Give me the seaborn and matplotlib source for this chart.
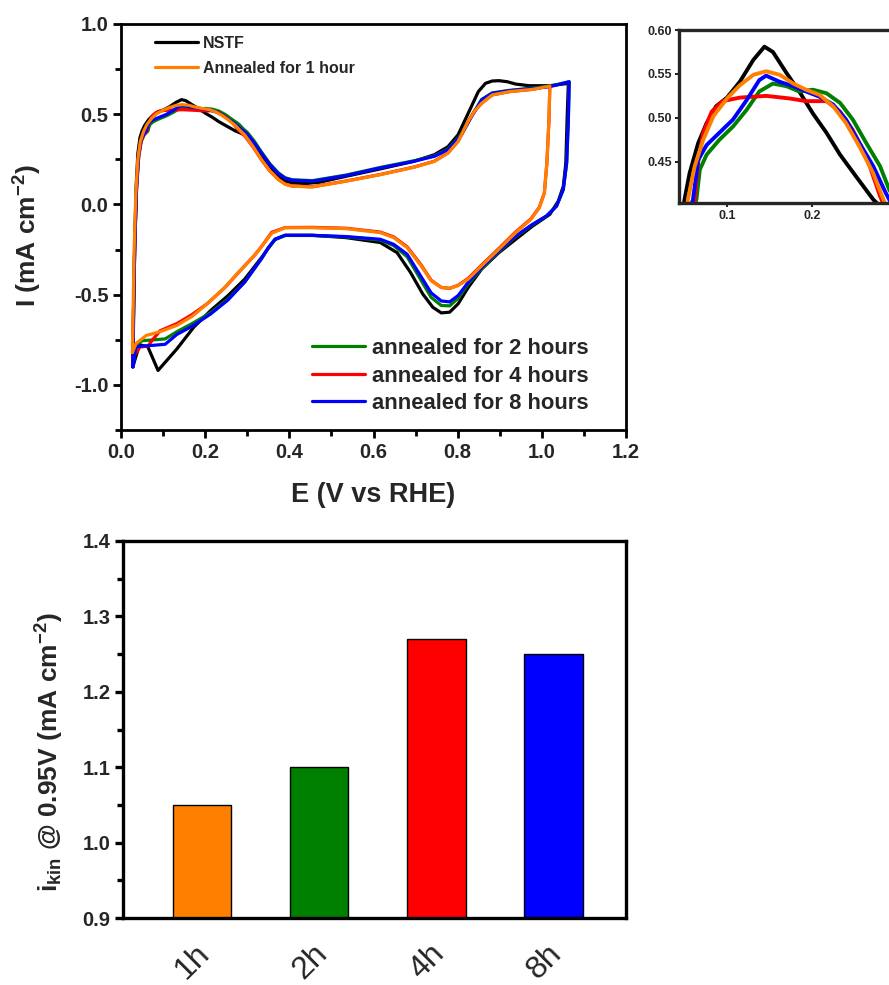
import matplotlib
matplotlib.use("Agg")
import matplotlib.pyplot as plt
from matplotlib.ticker import MultipleLocator
from matplotlib.transforms import ScaledTranslation
import seaborn as sns
import pandas as pd

# ---------------- cyclic voltammetry data (E in V vs RHE, I in mA cm^-2) ----------------
nstf_E_fwd = [0.028, 0.030, 0.032, 0.036, 0.040, 0.045, 0.050, 0.056, 0.066, 0.076, 0.087, 0.100,
              0.115, 0.131, 0.144, 0.154, 0.170, 0.185, 0.201, 0.217, 0.233, 0.252, 0.272, 0.294,
              0.314, 0.334, 0.354, 0.374, 0.390, 0.407, 0.439, 0.471, 0.535, 0.616, 0.696, 0.745,
              0.777, 0.801, 0.825, 0.849, 0.866, 0.882, 0.898, 0.918, 0.938, 0.970, 1.019, 1.063]
nstf_I_fwd = [-0.90, -0.63, -0.27, 0.10, 0.28, 0.37, 0.407, 0.437, 0.471, 0.494, 0.513, 0.523,
              0.541, 0.566, 0.581, 0.575, 0.551, 0.530, 0.505, 0.483, 0.458, 0.433, 0.407, 0.386,
              0.33, 0.267, 0.20, 0.156, 0.13, 0.12, 0.116, 0.123, 0.156, 0.197, 0.239, 0.276,
              0.32, 0.386, 0.505, 0.625, 0.671, 0.684, 0.686, 0.68, 0.667, 0.658, 0.658, 0.671]
nstf_E_rev = [1.063, 1.060, 1.057, 1.051, 1.039, 1.019, 0.978, 0.938, 0.898, 0.857, 0.825, 0.801,
              0.781, 0.761, 0.741, 0.717, 0.688, 0.656, 0.616, 0.535, 0.455, 0.390, 0.366, 0.334,
              0.294, 0.254, 0.213, 0.173, 0.133, 0.088, 0.064, 0.044, 0.028]
nstf_I_rev = [0.671, 0.47, 0.23, 0.10, 0.018, -0.055, -0.12, -0.193, -0.267, -0.358, -0.46, -0.551,
              -0.597, -0.601, -0.57, -0.496, -0.377, -0.267, -0.211, -0.184, -0.171, -0.171, -0.193,
              -0.294, -0.414, -0.506, -0.588, -0.68, -0.80, -0.92, -0.79, -0.777, -0.90]

h1_E_fwd = [0.027, 0.029, 0.031, 0.035, 0.040, 0.046, 0.054, 0.062, 0.072, 0.084, 0.100, 0.115,
            0.131, 0.146, 0.162, 0.178, 0.193, 0.209, 0.225, 0.240, 0.256, 0.272, 0.284, 0.294,
            0.314, 0.334, 0.354, 0.374, 0.390, 0.407, 0.455, 0.535, 0.616, 0.696, 0.745, 0.777,
            0.801, 0.825, 0.841, 0.857, 0.882, 0.922, 0.978, 1.019]
h1_I_fwd = [-0.82, -0.55, -0.27, 0.05, 0.25, 0.35, 0.407, 0.445, 0.475, 0.502, 0.522, 0.537,
            0.549, 0.553, 0.549, 0.539, 0.532, 0.526, 0.513, 0.494, 0.467, 0.437, 0.407, 0.385,
            0.32, 0.248, 0.185, 0.138, 0.112, 0.101, 0.097, 0.129, 0.165, 0.206, 0.239, 0.285,
            0.349, 0.46, 0.52, 0.561, 0.607, 0.625, 0.638, 0.656]
h1_E_rev = [1.019, 1.017, 1.012, 1.006, 0.994, 0.974, 0.938, 0.898, 0.857, 0.825, 0.801, 0.781,
            0.761, 0.737, 0.713, 0.680, 0.648, 0.616, 0.535, 0.455, 0.390, 0.358, 0.335, 0.318,
            0.278, 0.247, 0.205, 0.169, 0.133, 0.093, 0.060, 0.036, 0.027]
h1_I_rev = [0.656, 0.47, 0.23, 0.064, -0.018, -0.083, -0.156, -0.248, -0.34, -0.414, -0.45, -0.465,
            -0.46, -0.423, -0.34, -0.239, -0.184, -0.156, -0.134, -0.129, -0.129, -0.16, -0.23,
            -0.28, -0.38, -0.46, -0.55, -0.62, -0.67, -0.705, -0.726, -0.77, -0.82]

h2_E_fwd = [0.028, 0.030, 0.033, 0.037, 0.042, 0.048, 0.055, 0.064, 0.068, 0.076, 0.091, 0.107,
            0.123, 0.138, 0.154, 0.170, 0.185, 0.201, 0.217, 0.233, 0.248, 0.264, 0.280, 0.291,
            0.300, 0.317, 0.334, 0.354, 0.374, 0.390, 0.407, 0.455, 0.535, 0.616, 0.696, 0.745,
            0.777, 0.809, 0.833, 0.857, 0.882, 0.922, 0.978, 1.019, 1.035, 1.065]
h2_I_fwd = [-0.88, -0.55, -0.2, 0.1, 0.27, 0.35, 0.385, 0.407, 0.441, 0.458, 0.475, 0.49,
            0.509, 0.53, 0.539, 0.536, 0.53, 0.532, 0.528, 0.517, 0.498, 0.471, 0.445, 0.418,
            0.40, 0.35, 0.29, 0.225, 0.175, 0.148, 0.137, 0.132, 0.163, 0.205, 0.242, 0.27,
            0.306, 0.39, 0.49, 0.582, 0.618, 0.632, 0.645, 0.655, 0.664, 0.68]
h2_E_rev = [1.065, 1.063, 1.059, 1.051, 1.035, 1.011, 0.978, 0.938, 0.898, 0.857, 0.825, 0.801,
            0.781, 0.761, 0.737, 0.713, 0.680, 0.648, 0.616, 0.535, 0.455, 0.390, 0.366, 0.350,
            0.334, 0.294, 0.254, 0.213, 0.169, 0.133, 0.105, 0.080, 0.050, 0.035, 0.029]
h2_I_rev = [0.68, 0.47, 0.23, 0.083, -0.009, -0.064, -0.112, -0.178, -0.262, -0.355, -0.44, -0.52,
            -0.562, -0.56, -0.515, -0.42, -0.29, -0.228, -0.197, -0.18, -0.172, -0.172, -0.195,
            -0.24, -0.30, -0.43, -0.525, -0.6, -0.66, -0.705, -0.745, -0.75, -0.755, -0.78, -0.88]

h4_E_fwd = [0.028, 0.030, 0.033, 0.037, 0.042, 0.048, 0.055, 0.062, 0.066, 0.072, 0.082, 0.095,
            0.115, 0.146, 0.174, 0.193, 0.217, 0.233, 0.248, 0.264, 0.280, 0.294, 0.314, 0.334,
            0.354, 0.374, 0.390, 0.407, 0.455, 0.535, 0.616, 0.696, 0.745, 0.777, 0.801, 0.825,
            0.841, 0.857, 0.882, 0.922, 0.978, 1.019]
h4_I_fwd = [-0.85, -0.55, -0.2, 0.08, 0.26, 0.35, 0.39, 0.407, 0.449, 0.483, 0.507, 0.519,
            0.523, 0.525, 0.522, 0.519, 0.519, 0.507, 0.486, 0.456, 0.411, 0.38, 0.318, 0.247,
            0.185, 0.139, 0.113, 0.102, 0.098, 0.13, 0.166, 0.207, 0.24, 0.286, 0.35, 0.46,
            0.52, 0.561, 0.607, 0.625, 0.638, 0.656]
h4_E_rev = [1.019, 1.017, 1.012, 1.006, 0.994, 0.974, 0.938, 0.898, 0.857, 0.825, 0.801, 0.781,
            0.761, 0.737, 0.713, 0.680, 0.648, 0.616, 0.535, 0.455, 0.390, 0.358, 0.335, 0.318,
            0.278, 0.247, 0.205, 0.169, 0.133, 0.093, 0.075, 0.064, 0.045, 0.028]
h4_I_rev = [0.656, 0.47, 0.23, 0.064, -0.016, -0.08, -0.152, -0.244, -0.336, -0.41, -0.448, -0.465,
            -0.46, -0.42, -0.335, -0.235, -0.18, -0.153, -0.132, -0.127, -0.128, -0.155, -0.23,
            -0.28, -0.38, -0.46, -0.55, -0.61, -0.66, -0.70, -0.75, -0.785, -0.79, -0.85]

h8_E_fwd = [0.028, 0.030, 0.033, 0.037, 0.042, 0.048, 0.054, 0.060, 0.066, 0.076, 0.091, 0.107,
            0.123, 0.138, 0.146, 0.162, 0.178, 0.193, 0.209, 0.225, 0.240, 0.256, 0.272, 0.287,
            0.300, 0.317, 0.334, 0.354, 0.374, 0.390, 0.407, 0.455, 0.535, 0.616, 0.696, 0.745,
            0.777, 0.809, 0.833, 0.857, 0.882, 0.922, 0.978, 1.019, 1.035, 1.065]
h8_I_fwd = [-0.90, -0.55, -0.2, 0.1, 0.28, 0.36, 0.39, 0.407, 0.452, 0.469, 0.483, 0.498,
            0.52, 0.543, 0.548, 0.541, 0.536, 0.53, 0.524, 0.515, 0.498, 0.471, 0.445, 0.414,
            0.39, 0.34, 0.285, 0.22, 0.171, 0.145, 0.134, 0.129, 0.16, 0.202, 0.239, 0.267,
            0.303, 0.386, 0.487, 0.579, 0.616, 0.63, 0.643, 0.653, 0.662, 0.68]
h8_E_rev = [1.065, 1.063, 1.059, 1.051, 1.035, 1.011, 0.978, 0.938, 0.898, 0.857, 0.825, 0.801,
            0.781, 0.761, 0.737, 0.713, 0.680, 0.648, 0.616, 0.535, 0.455, 0.390, 0.366, 0.350,
            0.334, 0.294, 0.254, 0.213, 0.169, 0.133, 0.105, 0.080, 0.050, 0.035, 0.029]
h8_I_rev = [0.68, 0.47, 0.23, 0.083, -0.009, -0.064, -0.11, -0.175, -0.257, -0.349, -0.432, -0.505,
            -0.54, -0.535, -0.49, -0.40, -0.276, -0.221, -0.193, -0.178, -0.171, -0.171, -0.193,
            -0.24, -0.30, -0.43, -0.53, -0.607, -0.675, -0.72, -0.775, -0.78, -0.785, -0.79, -0.90]

# ---------------- kinetic current at 0.95 V ----------------
anneal_times = ["1h", "2h", "4h", "8h"]
i_kin = [1.05, 1.10, 1.27, 1.25]

ORANGE = "#FF8000"
GREEN = "#008000"
RED = "#FF0000"
BLUE = "#0000FF"
BLACK = "#000000"

sns.set_theme(style="ticks")
plt.rcParams["font.family"] = ["Liberation Sans", "DejaVu Sans"]
plt.rcParams["font.weight"] = "bold"
plt.rcParams["mathtext.fontset"] = "custom"
plt.rcParams["mathtext.rm"] = "Liberation Sans:bold"
plt.rcParams["mathtext.bf"] = "Liberation Sans:bold"
plt.rcParams["mathtext.default"] = "bf"

W, H = 889, 985
fig = plt.figure(figsize=(W / 100, H / 100), dpi=100)


def frac_axes(x0, y0, x1, y1):
    """Axes given by pixel box (left, top, right, bottom)."""
    return fig.add_axes([x0 / W, 1 - y1 / H, (x1 - x0) / W, (y1 - y0) / H])


# (label, colour, forward E, forward I, reverse E, reverse I) in drawing order
curves = [
    ("NSTF", BLACK, nstf_E_fwd, nstf_I_fwd, nstf_E_rev, nstf_I_rev),
    ("annealed for 2 hours", GREEN, h2_E_fwd, h2_I_fwd, h2_E_rev, h2_I_rev),
    ("annealed for 4 hours", RED, h4_E_fwd, h4_I_fwd, h4_E_rev, h4_I_rev),
    ("annealed for 8 hours", BLUE, h8_E_fwd, h8_I_fwd, h8_E_rev, h8_I_rev),
    ("Annealed for 1 hour", ORANGE, h1_E_fwd, h1_I_fwd, h1_E_rev, h1_I_rev),
]


def draw_cv(ax, lw):
    handles = {}
    for label, color, ef, jf, er, jr in curves:
        df = pd.DataFrame({"E": ef + er, "I": jf + jr})
        sns.lineplot(data=df, x="E", y="I", sort=False, estimator=None, color=color,
                     linewidth=lw, ax=ax, label=label, solid_joinstyle="round",
                     solid_capstyle="round")
        handles[label] = ax.get_lines()[-1]
    if ax.get_legend() is not None:
        ax.get_legend().remove()
    return handles


# ---------------- main CV panel ----------------
ax1 = frac_axes(121, 24, 626, 430)
handles = draw_cv(ax1, 2.3)
ax1.set_xlim(0.0, 1.2)
ax1.set_ylim(-1.25, 1.0)
ax1.xaxis.set_major_locator(MultipleLocator(0.2))
ax1.xaxis.set_minor_locator(MultipleLocator(0.1))
ax1.yaxis.set_major_locator(MultipleLocator(0.5))
ax1.yaxis.set_minor_locator(MultipleLocator(0.25))
ax1.set_xticks([0.0, 0.2, 0.4, 0.6, 0.8, 1.0, 1.2])
ax1.set_xticklabels(["0.0", "0.2", "0.4", "0.6", "0.8", "1.0", "1.2"])
ax1.set_yticks([-1.0, -0.5, 0.0, 0.5, 1.0])
ax1.set_yticklabels(["-1.0", "-0.5", "0.0", "0.5", "1.0"])
ax1.set_xlabel("E (V vs RHE)", fontsize=19.5, fontweight="bold", labelpad=15)
ax1.set_ylabel(r"I (mA cm$^{-2}$)", fontsize=19, fontweight="bold")
ax1.yaxis.set_label_coords(-0.152, 0.478)

leg1 = ax1.legend(handles=[handles["NSTF"], handles["Annealed for 1 hour"]],
                  labels=["NSTF", "Annealed for 1 hour"], loc="upper left",
                  bbox_to_anchor=(155 / W, 1 - 36 / H), bbox_transform=fig.transFigure,
                  frameon=False, prop={"size": 11.5, "weight": "bold"},
                  handlelength=2.7, handletextpad=0.3, labelspacing=0.6, borderpad=0,
                  borderaxespad=0)
ax1.add_artist(leg1)
ax1.legend(handles=[handles["annealed for 2 hours"], handles["annealed for 4 hours"],
                    handles["annealed for 8 hours"]],
           labels=["annealed for 2 hours", "annealed for 4 hours", "annealed for 8 hours"],
           loc="upper left", bbox_to_anchor=(312 / W, 1 - 338 / H),
           bbox_transform=fig.transFigure, frameon=False,
           prop={"size": 15.8, "weight": "bold"}, handlelength=2.4, handletextpad=0.32,
           labelspacing=0.3, borderpad=0, borderaxespad=0)

# ---------------- magnified view of the hydrogen region ----------------
ax_in = frac_axes(679, 30, 897, 203)
draw_cv(ax_in, 2.8)
ax_in.set_xlim(0.0435, 0.30)
ax_in.set_ylim(0.403, 0.60)
ax_in.set_xticks([0.1, 0.2])
ax_in.set_xticklabels(["0.1", "0.2"])
ax_in.set_yticks([0.45, 0.50, 0.55, 0.60])
ax_in.set_yticklabels(["0.45", "0.50", "0.55", "0.60"])
ax_in.set_xlabel("")
ax_in.set_ylabel("")
ax_in.tick_params(labelsize=9, width=1.5, length=3, pad=2)
for sp in ax_in.spines.values():
    sp.set_linewidth(2.4)

# ---------------- kinetic current bar chart ----------------
ax2 = frac_axes(123, 541, 626, 918)
sns.barplot(x=anneal_times, y=i_kin, hue=anneal_times,
            palette=[ORANGE, GREEN, RED, BLUE], legend=False, width=0.5,
            edgecolor="black", linewidth=1.0, saturation=1.0, ax=ax2)
ax2.set_xlim(-0.675, 3.62)
ax2.set_ylim(0.9, 1.4)
ax2.yaxis.set_major_locator(MultipleLocator(0.1))
ax2.yaxis.set_minor_locator(MultipleLocator(0.05))
ax2.set_yticks([0.9, 1.0, 1.1, 1.2, 1.3, 1.4])
ax2.set_yticklabels(["0.9", "1.0", "1.1", "1.2", "1.3", "1.4"])
ax2.set_xticks(range(len(anneal_times)))
ax2.set_xticklabels(anneal_times, rotation=45, fontsize=23, fontweight="normal")
ax2.set_ylabel(r"i$_{kin}$ @ 0.95V (mA cm$^{-2}$)", fontsize=19, fontweight="bold")
ax2.yaxis.set_label_coords(-0.113, 0.44)

for ax, lw in ((ax1, 2.0), (ax2, 2.4)):
    for sp in ax.spines.values():
        sp.set_visible(True)
        sp.set_linewidth(lw)
        sp.set_color("black")
    ax.tick_params(which="major", direction="out", length=6, width=lw, color="black",
                   labelsize=14.5, pad=3)
    ax.tick_params(which="minor", direction="out", length=4, width=lw, color="black")
ax2.tick_params(axis="x", which="both", length=0, labelsize=23, pad=12)
for t in ax1.get_xticklabels() + ax1.get_yticklabels() + ax2.get_yticklabels():
    t.set_fontweight("bold")
shift = ScaledTranslation(-9 / 100, -4 / 100, fig.dpi_scale_trans)
for t in ax2.get_xticklabels():
    t.set_fontweight("normal")
    t.set_transform(t.get_transform() + shift)

fig.savefig("out.png", dpi=100)
